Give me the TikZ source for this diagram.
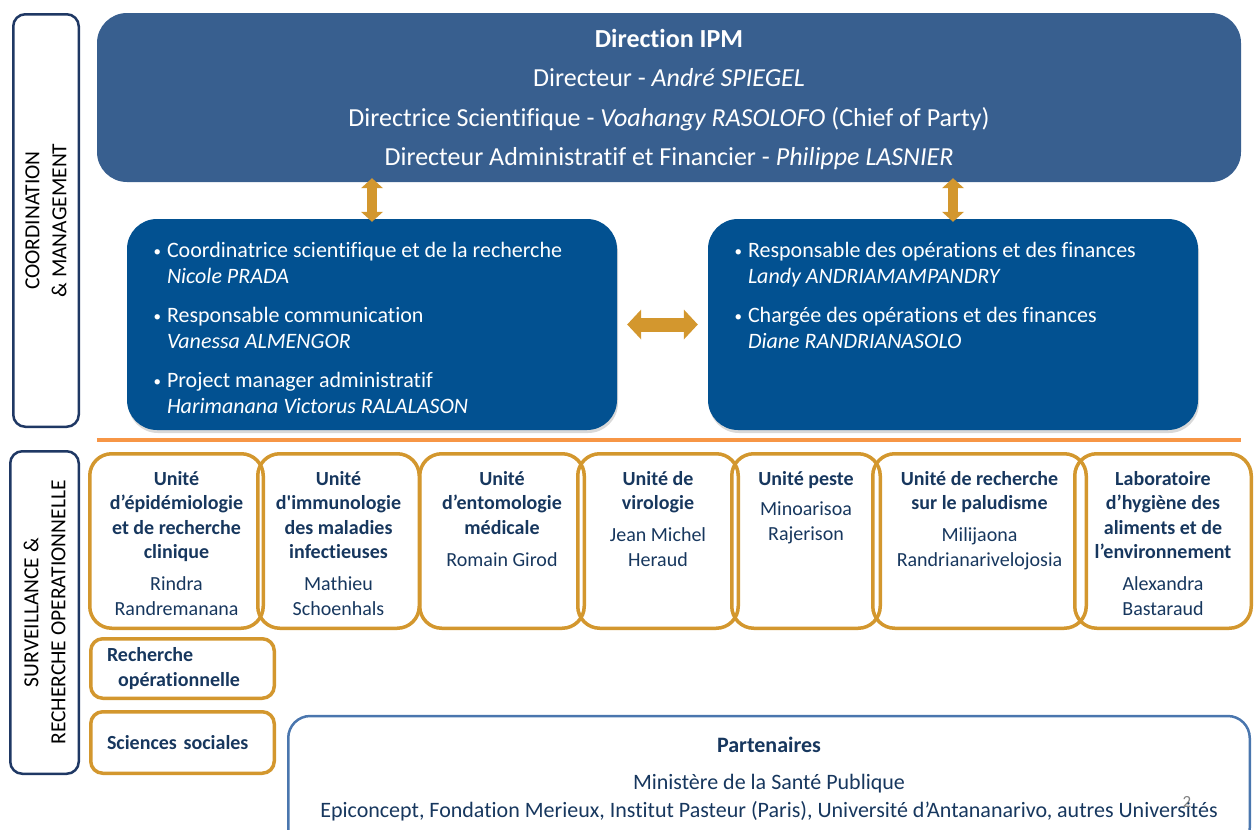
\documentclass[tikz,border=0pt]{standalone}
\usepackage{fontspec}
\setmainfont{Carlito}[Ligatures={TeX,NoCommon}]
\usetikzlibrary{positioning,arrows.meta,shadows}
\definecolor{ipmsteel}{RGB}{56,95,143}
\definecolor{ipmblue}{RGB}{2,81,145}
\definecolor{ipmgold}{RGB}{211,151,46}
\definecolor{ipmorange}{RGB}{247,150,70}
\definecolor{ipmnavy}{RGB}{23,55,94}
\definecolor{ipmframe}{RGB}{31,56,100}
\definecolor{ipmpartner}{RGB}{74,118,174}
\newcommand{\puce}[2]{\makebox[17pt][l]{\hspace{3.5pt}\raisebox{1.5pt}{\fontsize{15}{15}\selectfont•}}#1\\\hspace*{17pt}\textit{#2}}

\begin{document}
\begin{tikzpicture}[x=1pt, y=-1pt,
    sidebox/.style={draw=ipmframe, line width=2.5pt, rounded corners=12pt, inner sep=0pt},
    sidetext/.style={rotate=90, align=center, inner sep=0pt, font=\fontsize{21.5}{27}\selectfont},
    dirbox/.style={fill=ipmsteel, rounded corners=30pt},
    dirtext/.style={text=white, align=center, inner sep=0pt, font=\fontsize{26}{39.5}\selectfont},
    mgmtbox/.style={fill=ipmblue, rounded corners=30pt, drop shadow={opacity=0.3, shadow xshift=1pt, shadow yshift=-3pt}},
    bullettext/.style={text=white, align=left, inner sep=0pt, anchor=north west, font=\fontsize{22}{26}\selectfont},
    vlink/.style={ipmgold, line width=10.5pt, arrows={Triangle[width=22pt,length=10pt,line width=0pt]-Triangle[width=22pt,length=10pt,line width=0pt]}},
    hlink/.style={ipmgold, line width=14pt, arrows={Triangle[width=30pt,length=14pt,line width=0pt]-Triangle[width=30pt,length=14pt,line width=0pt]}},
    sepline/.style={ipmorange, line width=3.5pt},
    unitbox/.style={draw=ipmgold, line width=3.5pt, rounded corners=22pt, minimum height=174.5, inner sep=0pt},
    unittext/.style={text=ipmnavy, align=center, inner sep=0pt, anchor=north, font=\fontsize{20}{24.5}\selectfont},
    smallbox/.style={draw=ipmgold, line width=3.5pt, rounded corners=12pt, minimum width=183.5, text width=151, align=left, inner sep=0pt, text=ipmnavy, font=\bfseries\fontsize{20}{25}\selectfont},
    partnerbox/.style={draw=ipmpartner, line width=2.5pt, rounded corners=22pt},
    partnertext/.style={text=ipmnavy, align=center, inner sep=0pt, anchor=north, font=\fontsize{22}{28}\selectfont}]

    \useasboundingbox (0,0) rectangle (1254,830);

    % side labels
    \node[sidebox, minimum width=65.5, minimum height=412.5] (coordbox) at (46,220.5) {};
    \node[sidetext] (coordlabel) at (coordbox.center) {COORDINATION\\\& MANAGEMENT};
    \node[sidebox, minimum width=68.5, minimum height=322.5] (survbox) at (44.5,612.5) {};
    \node[sidetext] (survlabel) at (survbox.center) {SURVEILLANCE \&\\RECHERCHE OPERATIONNELLE};

    % direction
    \node[dirbox, minimum width=1144, minimum height=169] (direction) at (669,97.5) {};
    \node[dirtext] (directiontext) at ([yshift=-2pt]direction.center)
        {\textbf{Direction IPM}\\
         Directeur - \textit{André SPIEGEL}\\
         Directrice Scientifique - \textit{Voahangy RASOLOFO} (Chief of Party)\\
         Directeur Administratif et Financier - \textit{Philippe LASNIER}};

    % coordination and management
    \node[mgmtbox, minimum width=490, minimum height=211] (coordsci) at (372,324.5) {};
    \node[mgmtbox, minimum width=490, minimum height=211] (opsfin) at (953,324.5) {};
    \node[bullettext] (coordscitext) at ([xshift=23pt,yshift=-23.5pt]coordsci.north west)
        {\puce{Coordinatrice scientifique et de la recherche}{Nicole PRADA}\\[13pt]
         \puce{Responsable communication}{Vanessa ALMENGOR}\\[13pt]
         \puce{Project manager administratif}{Harimanana Victorus RALALASON}};
    \node[bullettext] (opsfintext) at ([xshift=23pt,yshift=-23.5pt]opsfin.north west)
        {\puce{Responsable des opérations et des finances}{Landy ANDRIAMAMPANDRY}\\[13pt]
         \puce{Chargée des opérations et des finances}{Diane RANDRIANASOLO}};

    \draw[vlink, shorten <=-4pt, shorten >=-3pt] (coordsci.north |- direction.south) -- (coordsci.north);
    \draw[vlink, shorten <=-4pt, shorten >=-3pt] (opsfin.north |- direction.south) -- (opsfin.north);
    \draw[hlink, shorten <=10pt, shorten >=10pt] (coordsci.east) -- (opsfin.west);

    \draw[sepline] (direction.west |- 0,440) -- (direction.east |- 0,440);

    % units
    \node[unitbox, minimum width=173.5] (epidemio) at (176.5,541) {};
    \node[unittext] (epidemiotext) at ([yshift=-19pt]epidemio.north)
        {\textbf{Unité}\\\textbf{d’épidémiologie}\\\textbf{et de recherche}\\\textbf{clinique}\\[7.5pt]Rindra\\Randremanana};
    \node[unitbox, minimum width=161.5] (immuno) at (338.5,541) {};
    \node[unittext] (immunotext) at ([yshift=-19pt]immuno.north)
        {\textbf{Unité}\\\textbf{d\textquotesingle immunologie}\\\textbf{des maladies}\\\textbf{infectieuses}\\[7.5pt]Mathieu\\Schoenhals};
    \node[unitbox, minimum width=164.5] (entomo) at (502,541) {};
    \node[unittext] (entomotext) at ([yshift=-19pt]entomo.north)
        {\textbf{Unité}\\\textbf{d’entomologie}\\\textbf{médicale}\\[7.5pt]Romain Girod};
    \node[unitbox, minimum width=160.5] (viro) at (658,541) {};
    \node[unittext] (virotext) at ([yshift=-19pt]viro.north)
        {\textbf{Unité de}\\\textbf{virologie}\\[7.5pt]Jean Michel\\Heraud};
    \node[unitbox, minimum width=148.5] (peste) at (806,541) {};
    \node[unittext] (pestetext) at ([yshift=-19pt]peste.north)
        {\textbf{Unité peste}\\[6pt]Minoarisoa\\Rajerison};
    \node[unitbox, minimum width=213.5] (palu) at (979.5,541) {};
    \node[unittext] (palutext) at ([yshift=-19pt]palu.north)
        {\textbf{Unité de recherche}\\\textbf{sur le paludisme}\\[7.5pt]Milijaona\\Randrianarivelojosia};
    \node[unitbox, minimum width=176.5] (hygiene) at (1163,541) {};
    \node[unittext] (hygienetext) at ([yshift=-19pt]hygiene.north)
        {\textbf{Laboratoire}\\\textbf{d’hygiène des}\\\textbf{aliments et de}\\\textbf{l’environnement}\\[7.5pt]Alexandra\\Bastaraud};

    \node[smallbox, minimum height=59.5] (recherche) at (182.5,668.5) {Recherche\\\hspace*{11pt}opérationnelle};
    \node[smallbox, minimum height=61.5, below=10pt of recherche] (sociales) {Sciences sociales};

    % partners
    \node[partnerbox, minimum width=961.5, minimum height=134] (partner) at (769,783) {};
    \node[partnertext] (partnerlist) at ([yshift=-21.75pt]partner.north)
        {\textbf{Partenaires}\\[9pt]Ministère de la Santé Publique\\
         Epiconcept, Fondation Merieux, Institut Pasteur (Paris), Université d’Antananarivo, autres Universités};
    \node[text=gray, inner sep=0pt, font=\fontsize{17}{17}\selectfont] (pagenum) at (1187,802) {2};
\end{tikzpicture}
\end{document}
